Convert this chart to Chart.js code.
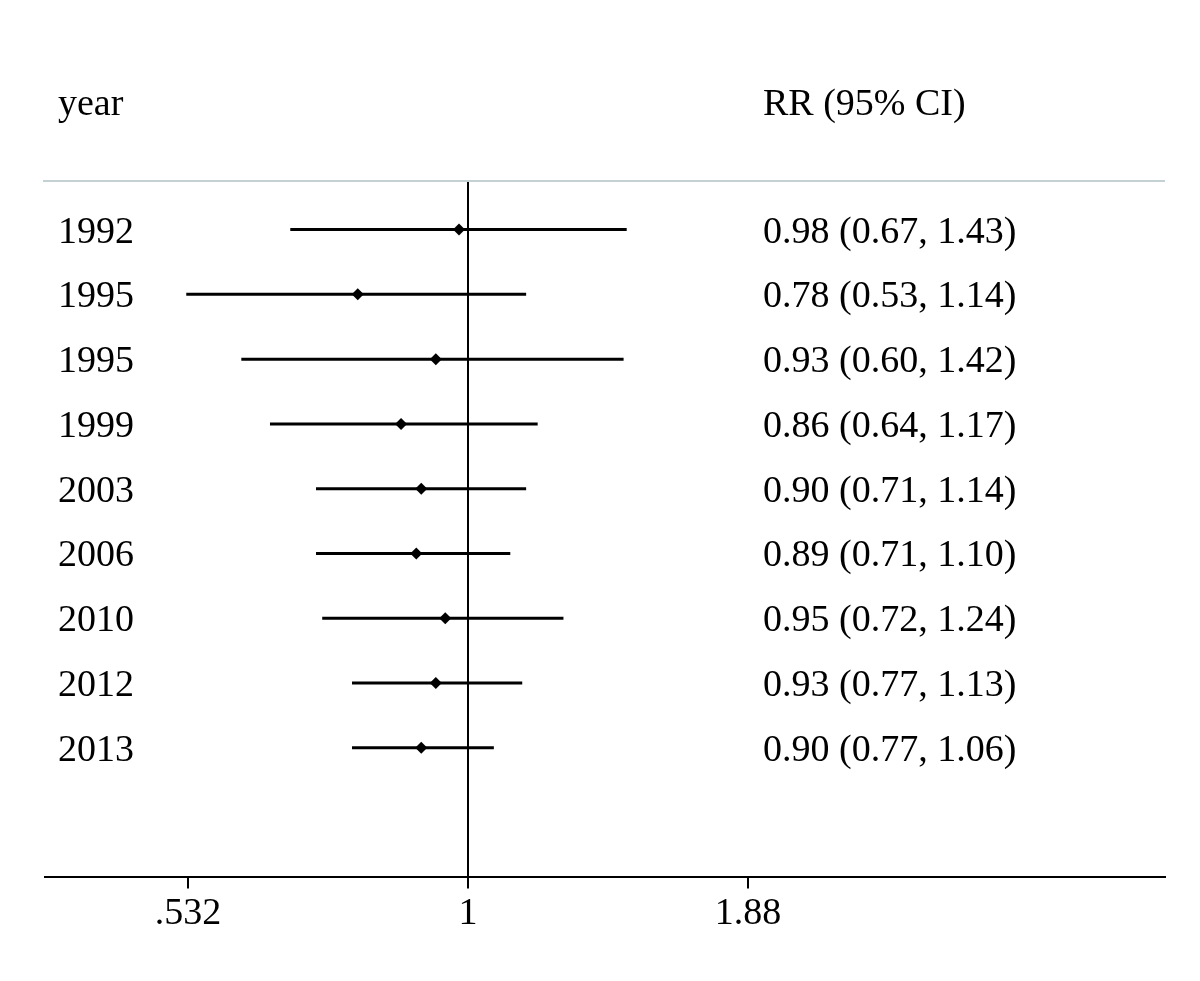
<!DOCTYPE html>
<html>
<head>
<meta charset="utf-8">
<script src="https://cdn.jsdelivr.net/npm/chart.js@4/dist/chart.umd.min.js"></script>
<style>
  html, body { margin: 0; padding: 0; background: #fff; }
  #wrap { width: 1200px; height: 981px; }
</style>
</head>
<body>
<div id="wrap"><canvas id="c"></canvas></div>
<script>
const years = ['1992', '1995', '1995', '1999', '2003', '2006', '2010', '2012', '2013']
const rr = [0.98, 0.78, 0.93, 0.86, 0.90, 0.89, 0.95, 0.93, 0.90]
const lower = [0.67, 0.53, 0.60, 0.64, 0.71, 0.71, 0.72, 0.77, 0.77]
const upper = [1.43, 1.14, 1.42, 1.17, 1.14, 1.10, 1.24, 1.13, 1.06]
const tickValues = [0.532, 1, 1.88]
const tickLabels = ['.532', '1', '1.88']

const FONT = '"Liberation Serif", "Times New Roman", serif'

// CI segments, one dataset per study
const ciSets = years.map((y, i) => ({
  type: 'scatter',
  data: [{ x: lower[i], y: i + 1 }, { x: upper[i], y: i + 1 }],
  showLine: true,
  borderColor: '#000',
  borderWidth: 3,
  pointRadius: 0,
}))

const pointSet = {
  type: 'scatter',
  data: rr.map((v, i) => ({ x: v, y: i + 1 })),
  pointStyle: 'rectRot',
  pointRadius: 6,
  backgroundColor: '#000',
  borderColor: '#000',
  borderWidth: 0,
}

const nullLine = {
  type: 'scatter',
  data: [{ x: 1, y: 0.25 }, { x: 1, y: 11 }],
  showLine: true,
  borderColor: '#000',
  borderWidth: 2,
  pointRadius: 0,
}

const textPlugin = {
  id: 'forestText',
  afterDraw(chart) {
    const { ctx, chartArea, scales } = chart
    ctx.save()
    // grey separator under header
    ctx.strokeStyle = '#c3d0d4'
    ctx.lineWidth = 2
    ctx.beginPath()
    ctx.moveTo(43, chartArea.top)
    ctx.lineTo(chartArea.right, chartArea.top)
    ctx.stroke()

    ctx.fillStyle = '#000'
    ctx.font = '38px ' + FONT
    ctx.textBaseline = 'middle'
    ctx.textAlign = 'left'
    const xYear = chartArea.left + 13
    const xRR = 763
    ctx.fillText('year', xYear, 105)
    ctx.fillText('RR (95% CI)', xRR, 105)
    years.forEach((y, i) => {
      const py = scales.y.getPixelForValue(i + 1)
      ctx.fillText(y, xYear, py + 3)
      const s = rr[i].toFixed(2) + ' (' + lower[i].toFixed(2) + ', ' + upper[i].toFixed(2) + ')'
      ctx.fillText(s, xRR, py + 3)
    })
    ctx.restore()
  },
}

new Chart(document.getElementById('c'), {
  type: 'scatter',
  data: { datasets: [nullLine, ...ciSets, pointSet] },
  options: {
    responsive: true,
    maintainAspectRatio: false,
    animation: false,
    layout: { padding: { left: 45, right: 35, top: 181, bottom: 41 } },
    plugins: { legend: { display: false }, tooltip: { enabled: false } },
    scales: {
      x: {
        type: 'logarithmic',
        min: 0.3855,
        max: 4.81,
        afterBuildTicks(axis) {
          axis.ticks = tickValues.map((v) => ({ value: v }))
        },
        ticks: {
          autoSkip: false,
          maxRotation: 0,
          color: '#000',
          font: { family: FONT, size: 38 },
          padding: 3,
          callback: (v) => tickLabels[tickValues.indexOf(v)] ?? '',
        },
        grid: {
          drawOnChartArea: false,
          drawTicks: true,
          tickLength: 11,
          color: '#000',
          lineWidth: 2,
        },
        border: { display: true, color: '#000', width: 2 },
      },
      y: {
        type: 'linear',
        reverse: true,
        min: 0.25,
        max: 11,
        display: false,
      },
    },
  },
  plugins: [textPlugin],
})
</script>
</body>
</html>
